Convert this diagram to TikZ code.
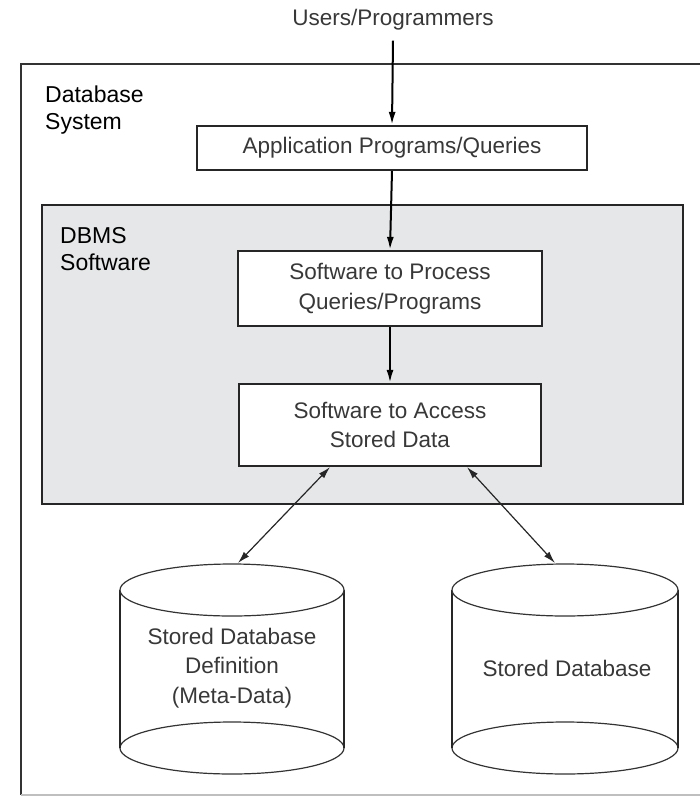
\documentclass[tikz,border=0pt]{standalone}
\usepackage{fontspec}
\setmainfont{Liberation Sans}
\usetikzlibrary{arrows.meta}
\definecolor{dbmsgray}{HTML}{E6E7E9}
\begin{document}
\begin{tikzpicture}[x=1pt,y=-1pt,
  boxtext/.style={font=\fontsize{22.5}{29.5}\selectfont, text=black!78, align=center},
  labeltext/.style={font=\fontsize{23}{27}\selectfont, text=black, align=left, anchor=west, inner sep=0pt},
  procbox/.style={boxtext, draw=black!85, line width=2.2pt, fill=white, inner sep=0pt},
  flow/.style={line width=2pt, draw=black, -{Latex[length=13pt,width=7pt]}},
  link/.style={line width=1.2pt, draw=black!85, {Latex[length=12pt,width=7pt]}-{Latex[length=12pt,width=7pt]}},
  cylline/.style={line width=1.2pt, draw=black!80},
  cylside/.style={line width=1.8pt, draw=black!85}
]
\useasboundingbox (0,0) rectangle (700,796);

% Database system frame (open to the right)
\draw[line width=1.8pt, draw=black!80] (700,64) -- (21,64) -- (21,795);
\draw[line width=1.2pt, draw=black!25] (21,795) -- (700,795);
\node[labeltext] (dbsys) at (45,110) {Database\\System};

% DBMS software block
\draw[line width=2.2pt, draw=black!85, fill=dbmsgray] (42,205) rectangle (683,504);
\node[labeltext] (dbms) at (60,249) {DBMS\\Software};

% Users and processing boxes
\node[boxtext, inner sep=2pt] (users) at (393,20) {Users/Programmers};
\node[procbox, minimum width=390pt, minimum height=44pt] (app) at (392,148) {Application Programs/Queries};
\node[procbox, minimum width=304pt, minimum height=75pt] (proc) at (390,288.5) {Software to Process\\Queries/Programs};
\node[procbox, minimum width=302pt, minimum height=82pt] (acc) at (390,425) {Software to Access\\Stored Data};

% Stored database definition cylinder
\draw[cylline] (232,748) ellipse [x radius=112, y radius=26];
\draw[cylside] (120,590) -- (120,748) (344,590) -- (344,748);
\draw[cylline, fill=white] (232,590) ellipse [x radius=112, y radius=26];
\node[boxtext] (meta) at (232,668) {Stored Database\\Definition\\(Meta-Data)};
\coordinate (metatop) at (238,563);

% Stored database cylinder
\draw[cylline] (565,748) ellipse [x radius=113, y radius=26];
\draw[cylside] (452,590) -- (452,748) (678,590) -- (678,748);
\draw[cylline, fill=white] (565,590) ellipse [x radius=113, y radius=26];
\node[boxtext] (store) at (567,668) {Stored Database};
\coordinate (storetop) at (555,563);

% Connectors
\coordinate (accL) at ([xshift=-60pt]acc.south);
\coordinate (accR) at ([xshift=77pt]acc.south);
\draw[flow] ([yshift=-8pt]users.south) -- (app.north);
\draw[flow] (app.south) -- (proc.north);
\draw[flow] (proc.south) -- (acc.north);
\draw[link] (accL) -- (metatop);
\draw[link] (accR) -- (storetop);
\end{tikzpicture}
\end{document}
